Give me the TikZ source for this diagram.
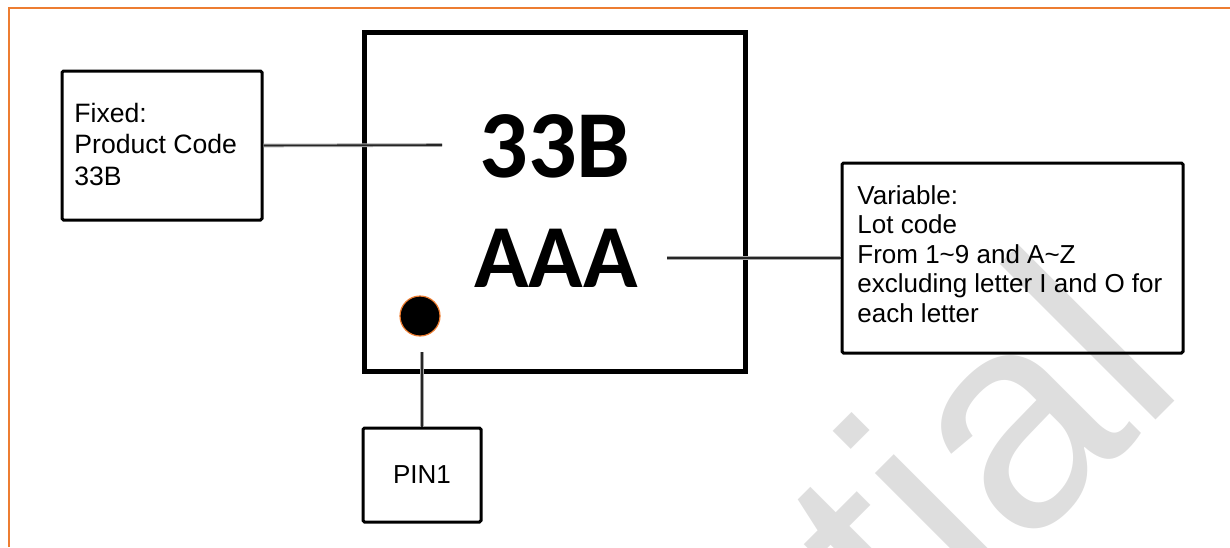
\documentclass[tikz,border=0pt]{standalone}
\usepackage{fontspec}
\setmainfont{Liberation Sans}
\newfontfamily\boldcal{Carlito}[BoldFont={* Bold}]
\definecolor{bordorange}{HTML}{ED7D31}
\definecolor{wmgray}{HTML}{DEDEDE}
\begin{document}
\begin{tikzpicture}[x=0.5pt,y=-0.5pt,
  labelbox/.style={draw=black,line width=1.5pt,rounded corners=0.8pt,inner sep=0pt},
  chipbox/.style={draw=black,line width=2.5pt,inner sep=0pt,minimum width=190.5pt,minimum height=169.5pt},
  labeltext/.style={anchor=west,inner sep=0pt,align=left},
  bigmark/.style={font=\boldcal\bfseries\fontsize{45}{50}\selectfont,inner sep=0pt,anchor=base},
  connback/.style={draw=black!35,line width=1.8pt},
  connfront/.style={draw=black!85,line width=0.8pt}]
\useasboundingbox (0,0) rectangle (1230,547);
% watermark
\begin{scope}
\clip (0,0) rectangle (1230,547);
\node[anchor=base east,rotate=45,inner sep=0pt,text=wmgray,font=\fontsize{152}{152}\selectfont] (wm) at (1190,386) {tial};
\end{scope}
% orange frame
\draw[bordorange,line width=1pt] (8.5,547) -- (8.5,7.5) -- (1230,7.5);
% chip
\node[chipbox] (chip) at (554.5,201.5) {};
\node[bigmark,font=\boldcal\bfseries\fontsize{48}{52}\selectfont] (code) at (555,177) {33B};
\node[bigmark] (lot) at (556,287) {AAA};
\node[circle,fill=black,draw=bordorange,line width=0.6pt,minimum size=20pt,inner sep=0pt] (dot) at (420,316) {};
% label boxes
\node[labelbox,minimum width=100pt,minimum height=74.5pt] (fixbox) at (162,145.5) {};
\node[labeltext,font=\fontsize{13.3}{15.75}\selectfont] (fixtext) at (74,144) {Fixed:\\Product Code\\33B};
\node[labelbox,minimum width=170.5pt,minimum height=95pt] (varbox) at (1012.5,258) {};
\node[labeltext,font=\fontsize{13}{14.75}\selectfont] (vartext) at (857,254) {Variable:\\Lot code\\From 1\textasciitilde 9 and A\textasciitilde Z\\excluding letter I and O for\\each letter};
\node[labelbox,minimum width=59pt,minimum height=47pt,font=\fontsize{13}{15}\selectfont] (pinbox) at (422,475) {PIN1};
% connectors
\coordinate (fixend) at (442,145);
\coordinate (varend) at (667,258);
\coordinate (pinend) at (422,352);
\foreach \s in {connback,connfront}{
  \draw[\s] (fixbox.east) -- (fixend);
  \draw[\s] (varend) -- (varend -| varbox.west);
  \draw[\s] (pinend) -- (pinbox.north);
}
\end{tikzpicture}
\end{document}
